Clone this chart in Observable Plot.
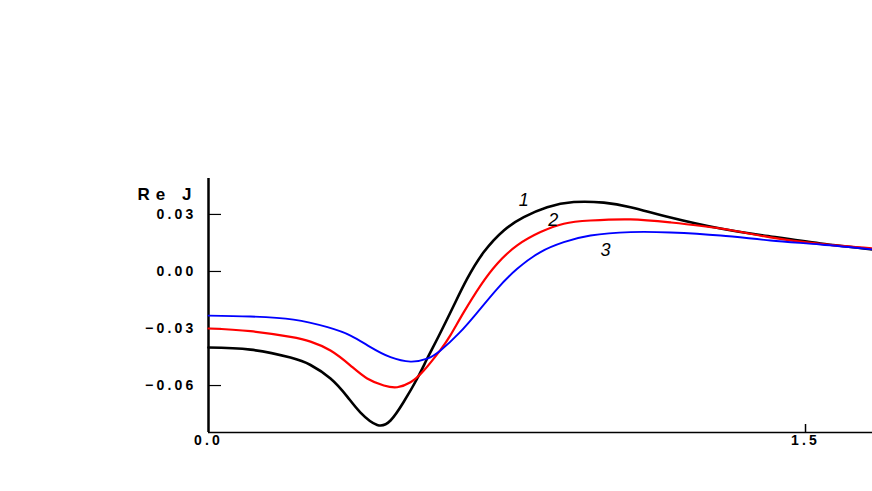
<!DOCTYPE html>
<html>
<head>
<meta charset="utf-8">
<script src="https://cdn.jsdelivr.net/npm/d3@7"></script>
<script src="https://cdn.jsdelivr.net/npm/@observablehq/plot@0.6"></script>
<style>
  html, body { margin: 0; padding: 0; background: #fff; }
  #chart svg { display: block; }
  .ticklbl text { letter-spacing: 3.2px; }
  .ylab text { letter-spacing: 6px; }
</style>
</head>
<body>
<div id="chart"></div>
<script>
// Series (x, Re J)
const xBlack = [0, 0.1055, 0.2060, 0.2563, 0.3065, 0.3485, 0.3819, 0.4239, 0.4573, 0.4899, 0.5244, 0.5495, 0.5779, 0.6163, 0.6500, 0.6917, 0.7420, 0.7922, 0.8510, 0.9178, 0.9932, 1.0603, 1.1608, 1.2864, 1.4121, 1.5377, 1.6683];
const yBlack = [-0.0400, -0.0411, -0.0453, -0.0492, -0.0563, -0.0658, -0.0742, -0.0807, -0.0784, -0.0688, -0.0563, -0.0458, -0.0342, -0.0179, -0.0038, 0.0102, 0.0216, 0.0286, 0.0338, 0.0365, 0.0362, 0.0338, 0.0284, 0.0226, 0.0184, 0.0147, 0.0116];

const xRed = [0, 0.1055, 0.2060, 0.2563, 0.3065, 0.3568, 0.3987, 0.4405, 0.4741, 0.5075, 0.5410, 0.5829, 0.6080, 0.6415, 0.6834, 0.7254, 0.7756, 0.8342, 0.8927, 0.9598, 1.0603, 1.1608, 1.2864, 1.4121, 1.5377, 1.6683];
const yRed = [-0.0300, -0.0314, -0.0344, -0.0369, -0.0416, -0.0495, -0.0563, -0.0600, -0.0609, -0.0583, -0.0521, -0.0412, -0.0335, -0.0214, -0.0074, 0.0041, 0.0137, 0.0207, 0.0251, 0.0268, 0.0274, 0.0258, 0.0226, 0.0179, 0.0145, 0.0121];

const xBlue = [0, 0.1055, 0.2136, 0.2990, 0.3568, 0.4070, 0.4573, 0.5075, 0.5495, 0.5829, 0.6289, 0.6751, 0.7254, 0.7756, 0.8342, 0.8927, 0.9598, 1.0603, 1.1608, 1.2864, 1.4121, 1.5377, 1.6683];
const yBlue = [-0.0232, -0.0237, -0.0253, -0.0293, -0.0337, -0.0398, -0.0451, -0.0474, -0.0459, -0.0416, -0.0326, -0.0216, -0.0091, 0.0014, 0.0102, 0.0154, 0.0189, 0.0207, 0.0205, 0.0189, 0.0163, 0.0142, 0.0116];

const seriesNames = ["1", "2", "3"];
const seriesColors = ["#000000", "#ff0000", "#0000ff"];
const seriesWidths = [2.6, 2.2, 1.9];
const labelX = [0.792, 0.866, 0.9975];
const labelY = [0.0374, 0.0268, 0.0110];

const yTicks = [0.03, 0.0, -0.03, -0.06];
const xTicks = [0, 1.5];
const xTickMarks = [1.5];
const yLabel = "Re J";

const series = [
  xBlack.map((x, i) => ({x, y: yBlack[i], s: "1"})),
  xRed.map((x, i) => ({x, y: yRed[i], s: "2"})),
  xBlue.map((x, i) => ({x, y: yBlue[i], s: "3"}))
];
const labels = seriesNames.map((s, i) => ({s, x: labelX[i], y: labelY[i]}));

const yMin = -0.0847, yMax = 0.0489;
const W = 872, H = 491, mT = 178, mB = 59, mL = 208, mR = 0;
const frameH = H - mT - mB;

const marks = [
  Plot.ruleX([0], {stroke: "#000", strokeWidth: 2.5}),
  Plot.ruleY([yMin], {stroke: "#000", strokeWidth: 1.5}),
  Plot.tickY(yTicks, {y: d => d, stroke: "#000", strokeWidth: 1.2, insetRight: W - mL - mR - 13}),
  Plot.tickX(xTickMarks, {x: d => d, stroke: "#000", strokeWidth: 1.5, insetTop: frameH - 8}),
  Plot.axisY({ticks: yTicks, tickSize: 0, tickPadding: 12, tickFormat: d3.format(".2f"),
    fontSize: 14, fontWeight: "bold", className: "ticklbl", label: null}),
  Plot.axisX({ticks: xTicks, tickSize: 0, tickPadding: 3, tickFormat: d3.format(".1f"),
    fontSize: 14, fontWeight: "bold", className: "ticklbl", label: null}),
  Plot.text([yLabel], {frameAnchor: "top-left", text: d => d, dx: -11, dy: 9, textAnchor: "end",
    fontSize: 17, fontWeight: "bold", className: "ylab"}),
  ...series.map((data, i) => Plot.line(data, {x: "x", y: "y", stroke: seriesColors[i],
    strokeWidth: seriesWidths[i], curve: "natural"})),
  Plot.text(labels, {x: "x", y: "y", text: "s", fontSize: 18, fontStyle: "italic", fill: "#000"})
];

const chart = Plot.plot({
  width: W, height: H,
  marginTop: mT, marginBottom: mB, marginLeft: mL, marginRight: mR,
  style: {fontFamily: "'Liberation Sans', Arial, sans-serif", background: "#fff", overflow: "visible"},
  x: {domain: [0, 1.6683]},
  y: {domain: [yMin, yMax]},
  marks
});
document.getElementById("chart").appendChild(chart);
</script>
</body>
</html>
